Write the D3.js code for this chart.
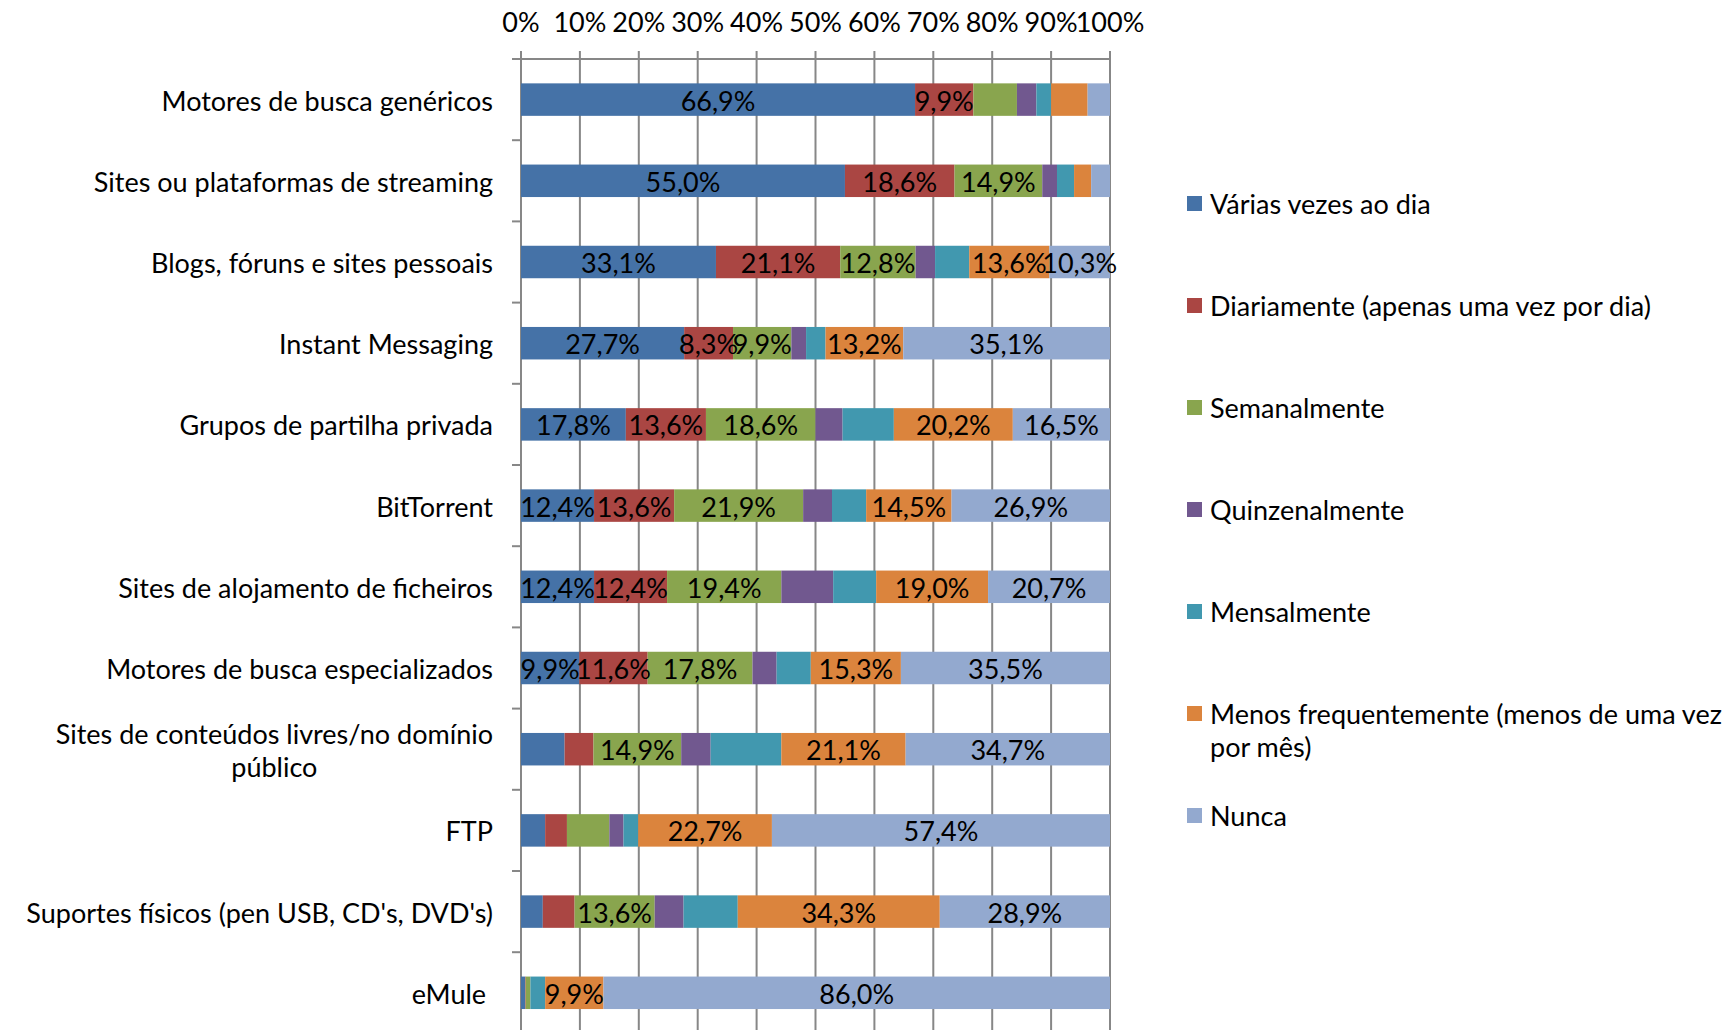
<!DOCTYPE html>
<html lang="pt">
<head>
<meta charset="UTF-8"/>
<title>Frequência de utilização</title>
<script src="https://d3js.org/d3.v7.min.js"></script>
<style>
	body { margin: 0; background: #fff; overflow: hidden; }
	svg { display: block; }
	text { font-family: "Lato", "Open Sans", sans-serif; fill: #000; }
</style>
</head>
<body>
<script>
	var categories = [
		"Motores de busca genéricos",
		"Sites ou plataformas de streaming",
		"Blogs, fóruns e sites pessoais",
		"Instant Messaging",
		"Grupos de partilha privada",
		"BitTorrent",
		"Sites de alojamento de ficheiros",
		"Motores de busca especializados",
		"Sites de conteúdos livres/no domínio|público",
		"FTP",
		"Suportes físicos (pen USB, CD's, DVD's)",
		"eMule\u00a0"
	];

	var seriesNames = [
		"Várias vezes ao dia",
		"Diariamente (apenas uma vez por dia)",
		"Semanalmente",
		"Quinzenalmente",
		"Mensalmente",
		"Menos frequentemente (menos de uma vez|por mês)",
		"Nunca"
	];

	var variasVezes   = [66.9, 55.0, 33.1, 27.7, 17.8, 12.4, 12.4,  9.9,  7.4,  4.1,  3.7,  0.7];
	var diariamente   = [ 9.9, 18.6, 21.1,  8.3, 13.6, 13.6, 12.4, 11.6,  4.9,  3.7,  5.4,  0.1];
	var semanalmente  = [ 7.4, 14.9, 12.8,  9.9, 18.6, 21.9, 19.4, 17.8, 14.9,  7.2, 13.6,  0.8];
	var quinzenal     = [ 3.3,  2.5,  3.3,  2.5,  4.6,  4.9,  8.8,  4.1,  5.0,  2.4,  4.9,  0.0];
	var mensalmente   = [ 2.5,  2.9,  5.8,  3.3,  8.7,  5.8,  7.3,  5.8, 12.0,  2.5,  9.2,  2.5];
	var menosFreq     = [ 6.2,  2.9, 13.6, 13.2, 20.2, 14.5, 19.0, 15.3, 21.1, 22.7, 34.3,  9.9];
	var nunca         = [ 3.8,  3.2, 10.3, 35.1, 16.5, 26.9, 20.7, 35.5, 34.7, 57.4, 28.9, 86.0];

	var xTicks = [0, 10, 20, 30, 40, 50, 60, 70, 80, 90, 100];

	var colors = ["#4572A7", "#AA4643", "#89A54E", "#71588F", "#4198AF", "#DB843D", "#93A9CF"];

	var allSeries = [variasVezes, diariamente, semanalmente, quinzenal, mensalmente, menosFreq, nunca];
	// series that carry data labels in the original (purple and teal have none)
	var labelled = [true, true, true, false, false, true, true];

	var w = 1729;
	var h = 1030;
	var plotLeft = 521, plotRight = 1110, plotTop = 59;
	var step = 81.2;
	var fontSize = 27;

	var table = categories.map(function(c, i){
		var row = {cat: c};
		seriesNames.forEach(function(s, j){ row[s] = allSeries[j][i]; });
		return row;
	});

	var stacked = d3.stack().keys(seriesNames)(table);

	var xScale = d3.scaleLinear().domain([0, 100]).range([plotLeft, plotRight]);
	var yScale = d3.scaleBand()
					.domain(categories)
					.range([plotTop, plotTop + step * categories.length])
					.paddingInner(0.6)
					.paddingOuter(0.3);

	var pt = d3.formatLocale({decimal: ",", thousands: ".", grouping: [3], currency: ["", "€"]});
	var fmt = pt.format(".1f");

	var svg = d3.select("body").append("svg").attr("width", w).attr("height", h);

	// gridlines
	svg.append("g").selectAll("line").data(xTicks).enter().append("line")
		.attr("x1", function(d){ return xScale(d); })
		.attr("x2", function(d){ return xScale(d); })
		.attr("y1", plotTop - 8)
		.attr("y2", h + 10)
		.attr("stroke", "#878787")
		.attr("stroke-width", 2);

	// top axis line
	svg.append("line")
		.attr("x1", plotLeft - 9).attr("x2", plotRight)
		.attr("y1", plotTop).attr("y2", plotTop)
		.attr("stroke", "#878787").attr("stroke-width", 2);

	// category ticks on the left
	svg.append("g").selectAll("line").data(d3.range(categories.length + 1)).enter().append("line")
		.attr("x1", plotLeft - 9).attr("x2", plotLeft)
		.attr("y1", function(i){ return plotTop + i * yScale.step(); })
		.attr("y2", function(i){ return plotTop + i * yScale.step(); })
		.attr("stroke", "#878787").attr("stroke-width", 2);

	// x tick labels
	svg.append("g").selectAll("text").data(xTicks).enter().append("text")
		.attr("x", function(d){ return xScale(d); })
		.attr("y", 32)
		.attr("text-anchor", "middle")
		.attr("font-size", fontSize)
		.text(function(d){ return d + "%"; });

	// bars
	var groups = svg.append("g").selectAll("g").data(stacked).enter().append("g")
		.attr("fill", function(d, i){ return colors[i]; });

	groups.selectAll("rect").data(function(d){ return d; }).enter().append("rect")
		.attr("x", function(d){ return xScale(d[0]); })
		.attr("y", function(d){ return yScale(d.data.cat); })
		.attr("width", function(d){ return xScale(d[1]) - xScale(d[0]); })
		.attr("height", yScale.bandwidth());

	// data labels
	stacked.forEach(function(s, i){
		if (!labelled[i]) return;
		svg.append("g").selectAll("text").data(s.filter(function(d){ return d[1] - d[0] >= 8; }))
			.enter().append("text")
			.attr("x", function(d){ return xScale((d[0] + d[1]) / 2); })
			.attr("y", function(d){ return yScale(d.data.cat) + yScale.bandwidth() / 2 + 11; })
			.attr("text-anchor", "middle")
			.attr("font-size", fontSize)
			.text(function(d){ return fmt(d[1] - d[0]) + "%"; });
	});

	// category labels
	categories.forEach(function(c){
		var lines = c.split("|");
		var cy = yScale(c) + yScale.bandwidth() / 2;
		var g = svg.append("g");
		var t = g.selectAll("text").data(lines).enter().append("text")
			.attr("font-size", fontSize)
			.attr("y", function(d, i){ return cy + 11 + (i - (lines.length - 1) / 2) * 33; })
			.text(function(d){ return d; });
		var maxW = 0;
		t.each(function(){ maxW = Math.max(maxW, this.getComputedTextLength()); });
		t.attr("text-anchor", "middle").attr("x", 493 - maxW / 2);
	});

	// legend
	var legend = svg.append("g").selectAll("g").data(seriesNames).enter().append("g")
		.attr("transform", function(d, i){ return "translate(1187," + (204 + i * 102) + ")"; });

	legend.append("rect")
		.attr("x", 0).attr("y", -8)
		.attr("width", 15).attr("height", 15)
		.attr("fill", function(d, i){ return colors[i]; });

	legend.each(function(d){
		var lines = d.split("|");
		d3.select(this).selectAll("text").data(lines).enter().append("text")
			.attr("x", 23)
			.attr("y", function(l, i){ return 10 + i * 33; })
			.attr("font-size", fontSize)
			.text(function(l){ return l; });
	});
</script>
</body>
</html>
